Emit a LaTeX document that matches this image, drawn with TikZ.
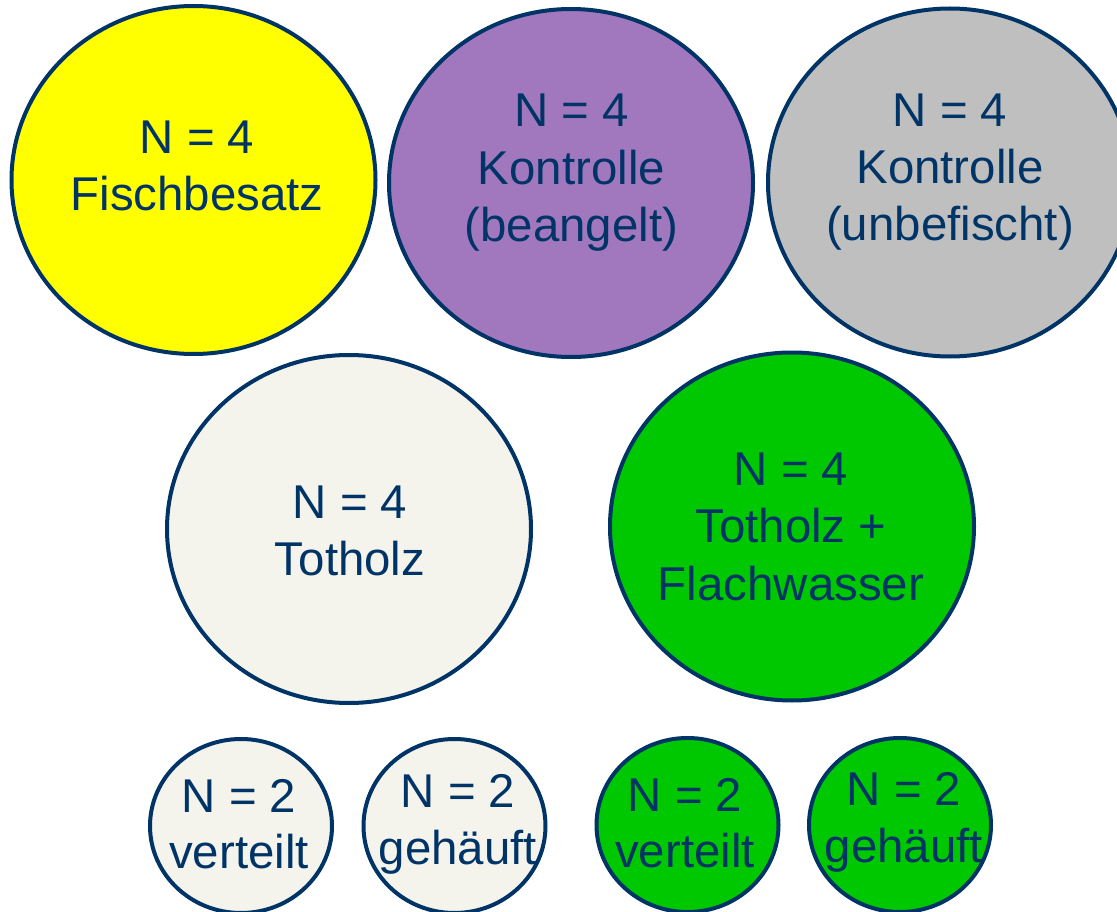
\documentclass[tikz,border=0pt]{standalone}
\usepackage{fontspec}
\setmainfont{Liberation Sans}
\usetikzlibrary{shapes.geometric}
\definecolor{navy}{HTML}{003366}
\definecolor{cyellow}{HTML}{FFFF00}
\definecolor{cpurple}{HTML}{A178BE}
\definecolor{cgrey}{HTML}{BFBFBF}
\definecolor{cwhite}{HTML}{F4F3EC}
\definecolor{cgreen}{HTML}{00C800}
\tikzset{
  blob/.style={shape=ellipse, draw=navy, line width=4pt, inner sep=0pt},
  big/.style={blob, minimum width=364pt, minimum height=348pt},
  small/.style={blob, minimum width=182pt, minimum height=174pt},
  txt/.style={anchor=base, inner sep=0pt, text=navy, font=\fontsize{47.4}{56.5}\selectfont}
}
\begin{document}
\begin{tikzpicture}[x=1pt,y=-1pt]
\useasboundingbox (0,0) rectangle (1117,912);
\clip (0,0) rectangle (1117,912);
% top row
\node[big, fill=cyellow] (c1) at (193.5,180) {};
\node[txt] (c1a) at (197,154) {N = 4};
\node[txt] (c1b) at (197,211) {Fischbesatz};
\node[big, fill=cpurple] (c2) at (571,183) {};
\node[txt] (c2a) at (571.5,127) {N = 4};
\node[txt] (c2b) at (571.5,185) {Kontrolle};
\node[txt] (c2c) at (571.5,242) {(beangelt)};
\node[big, fill=cgrey] (c3) at (950,182.5) {};
\node[txt] (c3a) at (950,127) {N = 4};
\node[txt] (c3b) at (950,184) {Kontrolle};
\node[txt] (c3c) at (950,241) {(unbefischt)};
% middle row
\node[big, fill=cwhite] (c4) at (349,529) {};
\node[txt] (c4a) at (350,518) {N = 4};
\node[txt] (c4b) at (350,575) {Totholz};
\node[big, fill=cgreen] (c5) at (792,526.5) {};
\node[txt] (c5a) at (791,485) {N = 4};
\node[txt] (c5b) at (791,542) {Totholz +};
\node[txt] (c5c) at (791,600) {Flachwasser};
% bottom row
\node[small, fill=cwhite] (c6) at (241,826) {};
\node[txt] (c6a) at (239,812) {N = 2};
\node[txt] (c6b) at (239,868) {verteilt};
\node[small, fill=cwhite] (c7) at (454.5,826) {};
\node[txt] (c7a) at (458,807) {N = 2};
\node[txt] (c7b) at (458,864) {gehäuft};
\node[small, fill=cgreen] (c8) at (687.5,825) {};
\node[txt] (c8a) at (685,811) {N = 2};
\node[txt] (c8b) at (685,867) {verteilt};
\node[small, fill=cgreen] (c9) at (900,825) {};
\node[txt] (c9a) at (904,805) {N = 2};
\node[txt] (c9b) at (904,862) {gehäuft};
\end{tikzpicture}
\end{document}
